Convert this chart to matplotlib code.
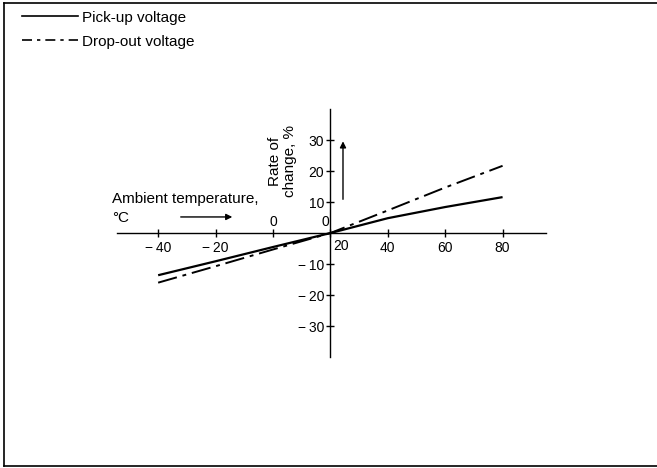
import matplotlib.pyplot as plt
from matplotlib.lines import Line2D

plt.rcParams['font.family'] = ['Liberation Sans', 'DejaVu Sans']

# Rate of change of relay voltages vs ambient temperature
temps = [-40, -20, 0, 20, 40, 60, 80]
pickup = [-13.6, -9.1, -4.5, 0.0, 4.8, 8.4, 11.6]
dropout = [-16.0, -10.7, -5.3, 0.0, 7.3, 14.7, 21.7]

x_ticks = [-40, -20, 40, 60, 80]
y_ticks = [-30, -20, -10, 10, 20, 30]


def fmt(v):
    return str(v).replace('-', '\u2212\u2009')


fig = plt.figure(figsize=(6.57, 4.68), dpi=100)
ax = fig.add_axes([0, 0, 1, 1])
ax.set_xlim(-95.1, 133.8)
ax.set_ylim(-75.8, 75.2)
ax.patch.set_alpha(0)

# axes cross at T = 20 degC, 0 %
for s in ['top', 'right']:
    ax.spines[s].set_visible(False)
ax.spines['left'].set_position(('data', 20))
ax.spines['bottom'].set_position(('data', 0))
ax.spines['left'].set_bounds(-40, 40)
ax.spines['bottom'].set_bounds(-54.5, 95)
for s in ['left', 'bottom']:
    ax.spines[s].set_linewidth(1.0)

ax.set_xticks(x_ticks + [0, 20])
ax.set_xticklabels([fmt(t) for t in x_ticks] + ['', ''])
ax.set_yticks(y_ticks)
ax.set_yticklabels([fmt(t) for t in y_ticks])
ax.tick_params(direction='inout', length=6, width=1, labelsize=10, pad=3)
ax.tick_params(axis='y', pad=1.5)

ax.text(0, 1.3, '0', ha='center', va='bottom', fontsize=10)
ax.text(23.7, -2.0, '20', ha='center', va='top', fontsize=10)
ax.text(18.2, 1.3, '0', ha='center', va='bottom', fontsize=10)

ax.plot(temps, pickup, color='black', lw=1.6, solid_capstyle='butt')
ax.plot(temps, dropout, color='black', lw=1.4, dashes=(10, 3, 2, 3))

# axis titles and direction arrows
ax.text(-56.0, 13.2, 'Ambient temperature,\n\u00b0C', ha='left', va='top',
        fontsize=11, linespacing=1.4)
ax.text(3.3, 11.6, 'Rate of\nchange, %', rotation=90, ha='center',
        va='bottom', fontsize=11, linespacing=1.1)
ax.annotate('', xy=(-13.2, 5.2), xytext=(-33.1, 5.2),
            arrowprops=dict(arrowstyle='-|>', color='black', lw=1.0,
                            mutation_scale=9))
ax.annotate('', xy=(24.4, 30.5), xytext=(24.4, 10),
            arrowprops=dict(arrowstyle='-|>', color='black', lw=1.0,
                            mutation_scale=9))

handles = [Line2D([], [], color='black', lw=1.2),
           Line2D([], [], color='black', lw=1.2, dashes=(6, 3, 2, 3))]
fig.legend(handles, ['Pick-up voltage', 'Drop-out voltage'],
           loc='upper left', bbox_to_anchor=(0.024, 0.99), frameon=False,
           fontsize=11, handlelength=3.7, handletextpad=0.25,
           labelspacing=0.65, borderaxespad=0)

# page border (left, top and bottom edges)
fig.add_artist(Line2D([4 / 657, 4 / 657], [1 - 3 / 468, 1 - 466 / 468],
                      transform=fig.transFigure, color='black', lw=1.2))
fig.add_artist(Line2D([4 / 657, 1], [1 - 3 / 468, 1 - 3 / 468],
                      transform=fig.transFigure, color='black', lw=1.2))
fig.add_artist(Line2D([4 / 657, 1], [1 - 466 / 468, 1 - 466 / 468],
                      transform=fig.transFigure, color='black', lw=1.2))

fig.savefig('out.png', dpi=100)
